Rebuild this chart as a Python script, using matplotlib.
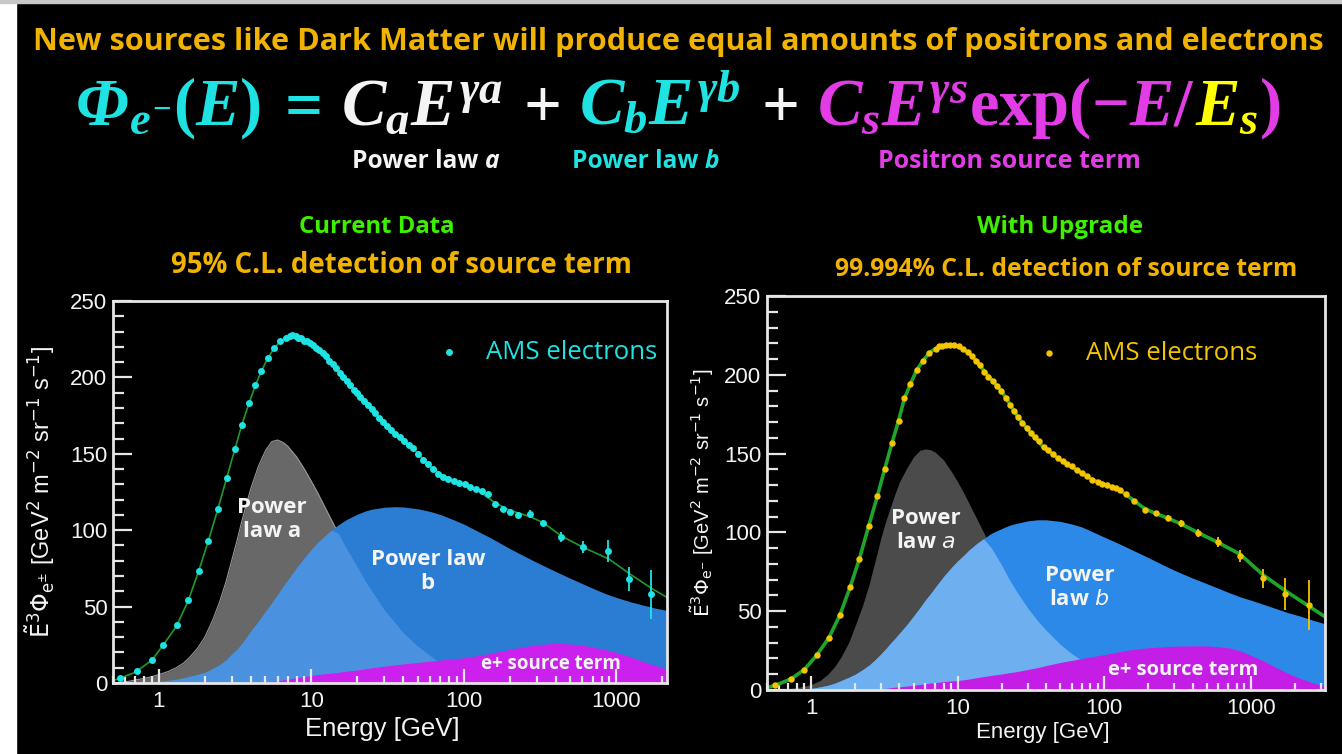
import numpy as np
import matplotlib.pyplot as plt
from matplotlib import font_manager as fm
from matplotlib.patches import Rectangle
from matplotlib.ticker import FixedLocator, FixedFormatter, LogLocator, NullFormatter, MultipleLocator

# ---------------- data ----------------
# left panel: current data (cyan points)
E_left = [0.557, 0.716, 0.898, 1.07, 1.31, 1.56, 1.82, 2.11, 2.44, 2.78, 3.15, 3.49, 3.88, 4.27,
          4.70, 5.17, 5.66, 6.26, 6.85, 7.2, 7.5, 7.9, 8.2, 8.6, 9.0, 9.4, 9.8, 10.3, 10.8, 11.3,
          11.9, 12.5, 13.1, 13.8, 14.5, 15.3, 16.1, 17.0, 17.9, 18.9, 19.9, 21.0, 22.2, 23.5, 24.8,
          26.2, 27.8, 29.5, 31.3, 33.3, 35.5, 37.9, 40.5, 43.4, 46.6, 50.1, 54, 58, 62.5, 67.5,
          73, 79, 86, 93, 101, 110, 120, 131, 145, 160, 180, 200, 225, 272, 333, 437, 608, 876,
          1220, 1700]
flux_left = [3, 8, 15, 25, 38, 54, 73, 93, 114, 134, 153, 169, 183, 195,
             204, 213, 219, 224, 226, 227, 227.5, 227, 226, 225.5, 224, 223.5, 222.5, 221, 219.5, 218,
             216, 214, 211, 209, 206, 203, 200, 197.5, 195, 192, 190, 187, 184.5, 182, 179,
             176.5, 173.5, 171, 168, 165.5, 163, 161, 158.5, 156, 154, 150, 146, 143, 140, 137,
             135, 133.5, 132, 131, 130.5, 128.5, 127, 125.5, 124, 117, 114, 112, 110, 110.5, 105, 95.5, 89, 86.5,
             68, 58]
err_left = [0] * 72 + [1.5, 2.5, 2, 3, 4, 7, 8, 16]

# right panel: with upgrade (yellow points)
E_right = [0.57, 0.73, 0.90, 1.09, 1.32, 1.57, 1.85, 2.13, 2.47, 2.83, 3.17, 3.57, 3.95, 4.33,
           4.75, 5.25, 5.8, 6.4, 7.07, 7.5, 7.8, 8.3, 8.9, 9.5, 10.2, 10.9, 11.7, 12.5, 13.3, 14.2,
           15.2, 16.2, 17.3, 18.5, 19.8, 21.2, 22.6, 24.2, 25.8, 27.6, 29.5, 31.5, 33.6, 35.9, 38.5,
           41.3, 44.5, 48, 52, 56, 60.5, 65, 70.5, 76.5, 83, 90, 97, 104, 112, 120, 127, 140, 160,
           189, 224, 272, 331, 432, 600, 848, 1210, 1715, 2500]
flux_right = [3, 7, 13, 22, 33, 47.5, 65.5, 83, 104, 123, 140, 157, 171, 185,
              194, 203, 209, 214, 216.6, 218, 218.5, 219, 219, 218.8, 218, 216.5, 214.5, 212, 209, 206,
              202, 198.6, 196, 193, 190, 185, 181, 177, 173, 169.5, 166, 163, 160.5, 158, 154,
              152, 150, 147.5, 145.5, 143.5, 142, 139.5, 137.5, 135.5, 133.5, 132, 131, 130, 129, 128, 127, 124.5, 120,
              114, 112, 109, 105.7, 99.7, 94, 85, 71, 61, 54]
err_right = [0] * 64 + [1.5, 2, 2, 2.5, 3, 4, 6, 10, 16]

# fitted total (green line)
Efit_left = [0.5, 0.55, 0.7, 0.9, 1.07, 1.3, 1.56, 1.82, 2.11, 2.44, 2.78, 3.15, 3.5, 3.9, 4.3, 4.7,
             5.2, 5.7, 6.3, 7.0, 7.5, 8.2, 9, 10, 12, 14.5, 20, 26, 35, 48, 60, 70, 87, 100, 120,
             160, 200, 270, 330, 440, 600, 900, 1200, 1700, 2150]
fit_left = [1.5, 3, 7, 15, 25, 37, 54, 73, 93, 114, 134, 153, 169, 183, 195, 204,
            213, 219, 224, 226.5, 227, 226, 224, 221.5, 214, 206, 190, 177, 163, 152, 142, 137, 132, 130, 127,
            118, 113, 109, 105, 96, 89, 81, 72, 62, 56]
Efit_right = [0.5, 0.57, 0.73, 0.9, 1.09, 1.32, 1.57, 1.85, 2.13, 2.47, 2.83, 3.17, 3.57, 3.95, 4.33,
              4.75, 5.25, 5.8, 6.4, 7.07, 8, 9, 10, 11.7, 13.3, 16.2, 19.8, 25.8, 31.5, 38.5, 50, 65,
              85, 104, 127, 160, 189, 224, 272, 331, 432, 600, 848, 1210, 1715, 2500, 3200]
fit_right = [1.5, 3, 7, 13, 22, 33, 47.5, 65.5, 83, 104, 123, 140, 157, 171, 185,
             194, 203, 209, 214, 216.6, 218.5, 219, 218, 214.5, 209, 199, 190, 173, 163, 154, 146, 139.5,
             133, 130, 127, 120, 115, 112, 109, 105.5, 100, 93.5, 86, 73, 63, 53, 46.5]

# model components (grey = power law a, blue = power law b, magenta = source term)
Ecomp_left = [0.5, 0.55, 0.6, 0.65, 0.7, 0.8, 0.9, 1.0, 1.15, 1.3,
              1.45, 1.6, 1.8, 2.0, 2.25, 2.5, 2.75, 3.0, 3.25, 3.5,
              3.75, 4.0, 4.5, 5.0, 5.5, 6.0, 6.5, 7.0, 8.0, 9.0,
              10, 11, 12, 13.5, 15, 17, 20, 22.5, 25, 30,
              35, 40, 50, 60, 70, 85, 100, 125, 150, 200,
              250, 300, 400, 500, 600, 700, 850, 1000, 1250, 1500,
              1800, 2150]
Ecomp_right = Ecomp_left + [2600, 3200]

law_a_left = [0, 0.3, 0.8, 1.3, 2, 3, 4.2, 5.5, 7.5, 10,
              13, 17, 23, 30, 41, 53, 66, 80, 93, 106,
              117, 127, 142, 152, 158, 159, 157.5, 155, 148, 140,
              132, 124.5, 117, 107, 98, 88, 76, 67, 60, 48,
              40, 33, 24, 18, 13, 8.5, 5.5, 2.5, 1, 0,
              0, 0, 0, 0, 0, 0, 0, 0, 0, 0,
              0, 0]
law_b_left = [0, 0, 0, 0.1, 0.2, 0.4, 0.7, 1, 1.7, 2.5,
              3.4, 4.5, 5.7, 7, 9.5, 12, 15, 19, 22, 26,
              30, 34, 40.5, 47, 52.5, 58, 63, 67.5, 75.5, 82,
              87.5, 92, 95.5, 100, 103.5, 107, 110.5, 112.5, 113.8, 115,
              115.4, 115.2, 114, 112.3, 110.3, 107, 104, 99, 95, 88,
              83, 79, 73, 68.5, 65, 62, 58.5, 56, 53, 51,
              49, 47.5]
source_left = [0, 0, 0, 0, 0, 0, 0, 0, 0, 0,
               0, 0, 0, 0, 0, 0, 0, 0, 0, 0,
               0, 0, 0, 0.5, 1, 1.5, 2, 2.5, 3.5, 4.3,
               5, 5.5, 6, 6.5, 7, 7.8, 8.5, 9.3, 10, 11,
               11.8, 12.5, 13.5, 14.3, 15, 15.8, 16.5, 18, 19.5, 22,
               23.8, 25, 26, 25.5, 24.8, 23.5, 21.8, 20, 17, 14,
               11.5, 9]

law_a_right = [0, 0.2, 0.5, 0.7, 1, 1.6, 2.4, 3.5, 6, 10,
               15, 21, 30, 41, 54, 68, 83, 97, 108, 117,
               125, 132, 141, 148, 152, 153, 152.5, 151, 146, 139,
               132, 125, 118, 108.5, 100, 90, 79, 70, 63, 52,
               44, 38, 29, 23, 19, 14, 10.5, 6, 4, 1.5,
               0.5, 0, 0, 0, 0, 0, 0, 0, 0, 0,
               0, 0, 0, 0]
law_b_right = [0, 0, 0, 0.1, 0.2, 0.5, 0.7, 1, 2, 3,
               4.3, 6, 8, 10, 13, 16, 19.5, 23, 26.5, 30,
               33, 36, 41.5, 47, 52, 57, 61, 65, 72, 77.5,
               82, 85.5, 89, 93, 96, 99.5, 102.5, 104.5, 105.7, 107.3,
               108, 108, 107, 105.3, 103.5, 100, 97, 93, 89.5, 84,
               79.5, 76, 71, 67.5, 64.5, 62, 59, 57, 54, 51.5,
               49, 47, 44.5, 42]
source_right = [0, 0, 0, 0, 0, 0, 0, 0, 0, 0,
                0, 0, 0, 0, 0, 0, 0, 0.5, 1, 1.5,
                1.8, 2, 2.5, 3, 3.5, 4, 4.4, 4.7, 5.3, 5.7,
                6, 6.5, 7, 7.8, 8.5, 9.3, 10.2, 11, 11.6, 13,
                14.2, 15.5, 17.5, 18.8, 20, 21.3, 22.5, 24.2, 25.5, 26.8,
                27.4, 27.8, 28, 28, 27.5, 26.8, 24.8, 22, 18, 14,
                10.5, 7.5, 4.8, 2.5]

xticks = [1, 10, 100, 1000]
xtick_labels = ['1', '10', '100', '1000']

# ---------------- colours / fonts ----------------
ORANGE = '#F2B300'
GREEN = '#3CF000'
CYAN = '#1FE3E3'
MAGENTA = '#E23CE6'
YELLOW = '#FFFF00'
WHITE = '#F4F4F4'

names = {f.name for f in fm.fontManager.ttflist}
NARROW = 'Liberation Sans Narrow' if 'Liberation Sans Narrow' in names else 'Open Sans'
plt.rcParams['mathtext.fontset'] = 'custom'
plt.rcParams['mathtext.rm'] = 'Liberation Serif:bold'
plt.rcParams['mathtext.it'] = 'Liberation Serif:italic:bold'
plt.rcParams['mathtext.bf'] = 'Liberation Serif:bold'

W, H = 1342, 754
fig = plt.figure(figsize=(W / 100, H / 100), dpi=100, facecolor='black')
renderer = fig.canvas.get_renderer()

# white strip on the left and thin grey line on top, as in the screenshot
fig.patches.append(Rectangle((0, 0), 16 / W, 1, transform=fig.transFigure, color='white', zorder=0))
fig.patches.append(Rectangle((0, 1 - 3 / H), 1, 3 / H, transform=fig.transFigure, color='#c8c8c8', zorder=0))


def text_line(xc, base, parts, size, width=None):
    """parts: (text, colour, kwargs, gap_after_in_em); centred at xc px, baseline at base px from top"""
    def build(sz):
        ts, ws = [], []
        for s, c, kw, gap in parts:
            t = fig.text(0, 0, s, color=c, fontsize=sz, ha='left', va='baseline', **kw)
            ts.append(t)
            ws.append(t.get_window_extent(renderer).width + gap * sz * 100 / 72)
        return ts, ws
    ts, ws = build(size)
    if width:
        for t in ts:
            t.remove()
        ts, ws = build(size * width / sum(ws))
    x = xc - sum(ws) / 2
    for t, w in zip(ts, ws):
        t.set_position((x / W, 1 - base / H))
        x += w


# headings
text_line(678, 50, [("New sources like Dark Matter will produce equal amounts of positrons and electrons",
                     ORANGE, dict(family=NARROW, weight='bold'), 0)], 22, width=1287)
mk = dict(math_fontfamily='custom')
phi = dict(family='Liberation Serif', weight='bold', style='italic')
text_line(678, 125, [("Φ", CYAN, phi, 0),
                     (r"${}_{e^{-}}(E)$", CYAN, mk, 0.2),
                     (r"$=$", CYAN, mk, 0.3),
                     (r"$C_{a}E^{\gamma a}$", WHITE, mk, 0.3),
                     (r"$+$", WHITE, mk, 0.3),
                     (r"$C_{b}E^{\gamma b}$", CYAN, mk, 0.3),
                     (r"$+$", WHITE, mk, 0.3),
                     (r"$C_{s}E^{\gamma s}\mathrm{exp}(-E/$", MAGENTA, mk, 0.0),
                     (r"$E_{s}$", YELLOW, mk, 0.0),
                     (r"$)$", MAGENTA, mk, 0)], 40, width=1207)
nb = dict(family=NARROW, weight='bold')
text_line(426, 168, [("Power law", WHITE, nb, 0.25), ("a", WHITE, dict(nb, style='italic'), 0)], 16, width=147)
text_line(646, 168, [("Power law", CYAN, nb, 0.25), ("b", CYAN, dict(nb, style='italic'), 0)], 16, width=147)
text_line(1009, 168, [("Positron source term", MAGENTA, nb, 0)], 16, width=262)
text_line(377, 233, [("Current Data", GREEN, nb, 0)], 16, width=155)
text_line(401, 273, [("95% C.L. detection of source term", ORANGE, nb, 0)], 18, width=462)
text_line(1060, 233, [("With Upgrade", GREEN, nb, 0)], 16, width=166)
text_line(1066, 276, [("99.994% C.L. detection of source term", ORANGE, nb, 0)], 18, width=462)


def panel(rect, xmax, E, data, err, Ef, fit, Ec, la, lb, src, style):
    ax = fig.add_axes(rect, facecolor='black')
    grey, blue, mix, pink = style['fills']
    la, lb, src = np.array(la), np.array(lb), np.array(src)
    ax.fill_between(Ec, 0, la, color=grey, lw=0, zorder=1)
    if style['edge']:
        ax.plot(Ec, la, color='#9a9a9a', lw=0.8, zorder=1.05)
    ax.fill_between(Ec, 0, lb, color=blue, lw=0, zorder=1.1)
    ax.fill_between(Ec, 0, np.minimum(la, lb), color=mix, lw=0, zorder=1.2)
    ax.fill_between(Ec, 0, src, color=pink, lw=0, zorder=1.3)
    ax.plot(Ef, fit, color=style['line'], lw=style['lw'], zorder=3)
    pc = style['pt']
    ax.errorbar(E, data, yerr=err, fmt='o', color=pc, ms=style['ms'], elinewidth=1.3, capsize=0,
                mew=0, zorder=4)
    ax.set_xscale('log')
    ax.set_xlim(0.5, xmax)
    ax.set_ylim(0, 250)
    ax.xaxis.set_major_locator(FixedLocator(xticks))
    ax.xaxis.set_major_formatter(FixedFormatter(xtick_labels))
    ax.xaxis.set_minor_locator(LogLocator(base=10, subs=np.arange(2, 10), numticks=20))
    ax.xaxis.set_minor_formatter(NullFormatter())
    ax.yaxis.set_major_locator(MultipleLocator(50))
    ax.yaxis.set_minor_locator(MultipleLocator(10))
    for s in ax.spines.values():
        s.set_color('#e6e6e6')
        s.set_linewidth(2)
        s.set_zorder(5)
    ax.tick_params(which='both', direction='in', colors='#e6e6e6', top=False, right=False,
                   labelsize=16, labelfontfamily='Liberation Sans', width=1.6)
    ax.tick_params(axis='y', which='major', length=14, pad=4)
    ax.tick_params(axis='y', which='minor', length=8)
    ax.tick_params(axis='x', which='major', length=10, pad=6)
    ax.tick_params(axis='x', which='minor', length=5)
    for t in ax.get_xticklabels() + ax.get_yticklabels():
        t.set_color(WHITE)
    # legend
    lx, ly, tx = style['legend']
    ax.plot([lx], [ly], 'o', color=pc, ms=style['ms'], mew=0, transform=ax.transAxes, zorder=6)
    ax.text(tx, ly, "AMS electrons", color=pc, fontsize=18.5, family='Open Sans', va='center',
            transform=ax.transAxes, zorder=6)
    # labels
    ax.text(*style['xlab'], "Energy [GeV]", color=WHITE, fontsize=style['xls'], family='Liberation Sans',
            ha='center', va='center', transform=ax.transAxes)
    ax.text(*style['ylab'], style['ylabel'], color=WHITE, fontsize=style['yls'], family='Liberation Sans',
            math_fontfamily='dejavusans', rotation=90, ha='center', va='center', transform=ax.transAxes)
    ob = dict(color=WHITE, family='Open Sans', weight='bold', ha='center', va='center', zorder=6,
              math_fontfamily='dejavusans')
    for (x, y, s, fs) in style['notes']:
        ax.text(x, y, s, fontsize=fs, **ob)
    return ax


left_style = dict(
    fills=('#686868', '#2a7dd3', '#4a92e0', '#cc20ee'), edge=True,
    line='#1f9a2a', lw=1.2, pt=CYAN, ms=5,
    legend=(0.606, 0.866, 0.673), xlab=(0.487, -0.120), xls=18.5,
    ylab=(-0.132, 0.5), yls=17,
    ylabel=r"$\tilde{\mathrm{E}}^{3}\Phi_{\mathrm{e}^{\pm}}$ [GeV$^{2}$ m$^{-2}$ sr$^{-1}$ s$^{-1}$]",
    notes=[(5.5, 107, "Power\nlaw a", 16),
           (58, 73, "Power law\nb", 16),
           (370, 12.5, "e+ source term", 13.5)])
right_style = dict(
    fills=('#4b4b4b', '#2d89e8', '#6eaff0', '#c41ee6'), edge=False,
    line='#1fa52a', lw=2.6, pt='#F5C400', ms=4.6,
    legend=(0.505, 0.855, 0.572), xlab=(0.495, -0.109), xls=16,
    ylab=(-0.115, 0.5), yls=14.5,
    ylabel=r"$\tilde{\mathrm{E}}^{3}\Phi_{\mathrm{e}^{-}}$ [GeV$^{2}$ m$^{-2}$ sr$^{-1}$ s$^{-1}$]",
    notes=[(6.05, 101, "Power\nlaw $\\mathit{a}$", 16),
           (67.6, 65, "Power\nlaw $\\mathit{b}$", 16),
           (346, 12.7, "e+ source term", 14.5)])

panel([113 / W, 1 - 683 / H, 554 / W, 382 / H], 2150, E_left, flux_left, err_left, Efit_left, fit_left,
      Ecomp_left, law_a_left, law_b_left, source_left, left_style)
panel([767 / W, 1 - 690 / H, 558 / W, 394 / H], 3200, E_right, flux_right, err_right, Efit_right, fit_right,
      Ecomp_right, law_a_right, law_b_right, source_right, right_style)

fig.savefig('out.png', dpi=100, facecolor='black')
